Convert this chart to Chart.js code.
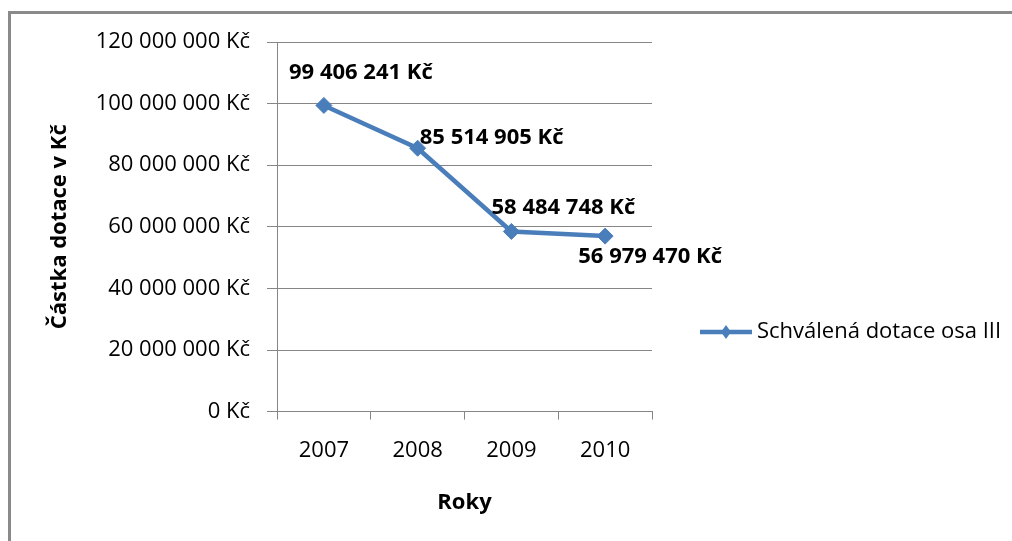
<!DOCTYPE html>
<html>
<head>
<meta charset="utf-8">
<script src="https://cdn.jsdelivr.net/npm/chart.js@4/dist/chart.umd.min.js"></script>
<style>
  html, body { margin: 0; padding: 0; background: #ffffff; }
  #wrap { width: 1012px; height: 541px; position: relative; }
</style>
</head>
<body>
<div id="wrap"><canvas id="c" width="1012" height="541"></canvas></div>
<script>
// ---- data ----
const years = ['2007', '2008', '2009', '2010'];
const dotace = [99406241, 85514905, 58484748, 56979470];
const seriesName = 'Schválená dotace osa III';
const yAxisTitle = 'Částka dotace v Kč';
const xAxisTitle = 'Roky';
const yMin = 0;
const yMax = 120000000;
const yStep = 20000000;

// ---- styling ----
const FONT = '"Open Sans", "Noto Sans", sans-serif';
const BLUE = '#4A7EBB';
const GRID = '#868686';
const labelOffsets = [[37, -33], [74, -10], [52, -24], [45, 21]];

function fmt(v) {
  return String(Math.round(v)).replace(/\B(?=(\d{3})+(?!\d))/g, ' ') + ' Kč';
}

const frame = {
  id: 'frame',
  beforeDraw(chart) {
    const ctx = chart.ctx;
    ctx.save();
    ctx.fillStyle = '#ffffff';
    ctx.fillRect(0, 0, chart.width, chart.height);
    ctx.fillStyle = '#8a8a8a';
    ctx.fillRect(8, 11, chart.width - 8, 3);
    ctx.fillRect(8, 11, 3, chart.height - 11);
    ctx.restore();
  }
};

const valueLabels = {
  id: 'valueLabels',
  afterDatasetsDraw(chart) {
    const ctx = chart.ctx;
    const meta = chart.getDatasetMeta(0);
    ctx.save();
    ctx.font = 'bold 22px ' + FONT;
    ctx.fillStyle = '#000000';
    ctx.textAlign = 'center';
    ctx.textBaseline = 'middle';
    meta.data.forEach((pt, i) => {
      const off = labelOffsets[i] || [0, -20];
      ctx.fillText(fmt(chart.data.datasets[0].data[i]), pt.x + off[0], pt.y + off[1]);
    });
    ctx.restore();
  }
};

const sideLegend = {
  id: 'sideLegend',
  afterDraw(chart) {
    const ctx = chart.ctx;
    const ds = chart.data.datasets[0];
    const y = 332;
    ctx.save();
    ctx.strokeStyle = ds.borderColor;
    ctx.lineWidth = 4.5;
    ctx.beginPath();
    ctx.moveTo(700, y);
    ctx.lineTo(752, y);
    ctx.stroke();
    ctx.fillStyle = ds.backgroundColor;
    ctx.beginPath();
    ctx.moveTo(726, y - 7); ctx.lineTo(731, y); ctx.lineTo(726, y + 7); ctx.lineTo(721, y);
    ctx.closePath(); ctx.fill();
    ctx.font = '22px ' + FONT;
    ctx.fillStyle = '#000000';
    ctx.textAlign = 'left';
    ctx.textBaseline = 'middle';
    ctx.fillText(ds.label, 757, y);
    ctx.restore();
  }
};

new Chart(document.getElementById('c'), {
  type: 'line',
  data: {
    labels: years,
    datasets: [{
      label: seriesName,
      data: dotace,
      borderColor: BLUE,
      backgroundColor: BLUE,
      borderWidth: 4.5,
      pointStyle: 'rectRot',
      pointRadius: 8,
      pointBorderWidth: 1,
      pointBackgroundColor: BLUE,
      pointBorderColor: BLUE,
      tension: 0,
      fill: false
    }]
  },
  options: {
    responsive: false,
    animation: false,
    devicePixelRatio: 1,
    layout: { padding: { top: 42, right: 360, bottom: 0, left: 0 } },
    plugins: {
      legend: { display: false },
      tooltip: { enabled: false }
    },
    scales: {
      x: {
        type: 'category',
        offset: true,
        afterFit(scale) { scale.height = 129.4; },
        grid: {
          display: true,
          offset: true,
          drawOnChartArea: false,
          drawTicks: true,
          tickLength: 8,
          color: GRID,
          lineWidth: 1
        },
        border: { display: true, color: GRID, width: 1 },
        ticks: {
          color: '#000000',
          font: { family: FONT, size: 22 },
          padding: 18,
          maxRotation: 0
        },
        title: {
          display: true,
          text: xAxisTitle,
          color: '#000000',
          font: { family: FONT, size: 22, weight: 'bold' },
          padding: { top: 0, bottom: 25 }
        }
      },
      y: {
        min: yMin,
        max: yMax,
        afterFit(scale) { scale.width = 277; },
        grid: {
          color: GRID,
          lineWidth: 1,
          drawTicks: true,
          tickLength: 10
        },
        border: { display: true, color: GRID, width: 1 },
        ticks: {
          stepSize: yStep,
          color: '#000000',
          font: { family: FONT, size: 22 },
          padding: 17,
          callback: (v) => fmt(v)
        },
        title: {
          display: true,
          text: yAxisTitle,
          color: '#000000',
          font: { family: FONT, size: 22, weight: 'bold' },
          padding: { top: 47, bottom: 0 }
        }
      }
    }
  },
  plugins: [frame, valueLabels, sideLegend]
});
</script>
</body>
</html>
